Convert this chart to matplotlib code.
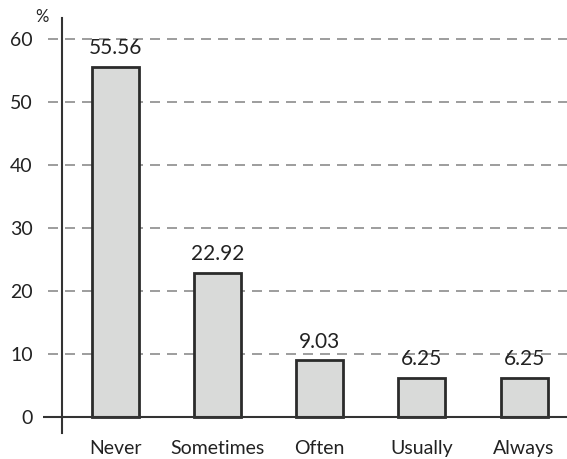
import matplotlib.pyplot as plt

categories = ["Never", "Sometimes", "Often", "Usually", "Always"]
values = [55.56, 22.92, 9.03, 6.25, 6.25]
yticks = [0, 10, 20, 30, 40, 50, 60]

plt.rcParams['font.family'] = ['Lato', 'DejaVu Sans']

fig = plt.figure(figsize=(5.67, 4.59), dpi=100)
W, H = 567, 459
ax = fig.add_axes([62 / W, (H - 433) / H, (W - 62) / W, (433 - 18) / H])

ax.set_xlim(-0.524, 4.42)
ax.set_ylim(-2.5, 63.3)

# dashed grid lines, starting a little left of the axis
for v in yticks[1:]:
    ax.hlines(v, -0.028, 1, transform=ax.get_yaxis_transform(), colors='#8c8c8c',
              linestyles=(0, (6, 4.2)), linewidth=1.2, clip_on=False, zorder=1)
ax.hlines(0, -0.038, 1, transform=ax.get_yaxis_transform(), colors='#333333',
          linewidth=1.5, clip_on=False, zorder=3)

x = range(len(categories))
ax.bar(x, values, width=0.46, color='#d9dad9', edgecolor='#2b2b2b', linewidth=2, zorder=2)

for xi, v in zip(x, values):
    ax.annotate(f"{v:.2f}", (xi, v), xytext=(0, 6), textcoords='offset points',
                ha='center', va='bottom', fontsize=15, color='#222222')

for s in ['top', 'right', 'bottom']:
    ax.spines[s].set_visible(False)
ax.spines['left'].set_color('#333333')
ax.spines['left'].set_linewidth(1.5)

ax.set_yticks(yticks)
ax.set_xticks(list(x))
ax.set_xticklabels(categories)
ax.tick_params(axis='y', length=0, pad=21, labelsize=14, labelcolor='#222222')
ax.tick_params(axis='x', length=0, pad=5, labelsize=14, labelcolor='#222222')

fig.text(42 / W, 1 - 17 / H, "%", ha='center', va='center', fontsize=12, color='#222222')

fig.savefig("out.png", dpi=100)
